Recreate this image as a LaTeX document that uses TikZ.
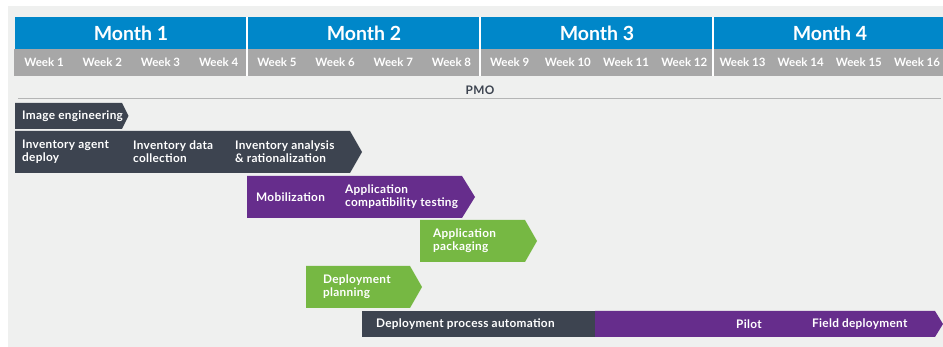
\documentclass[tikz,border=0pt]{standalone}
\usepackage{fontspec}
\setmainfont{Lato}
\newfontfamily\taskfont{Lato}[LetterSpace=2.5]
\definecolor{bgc}{HTML}{EFF0EF}
\definecolor{monthc}{HTML}{0087C9}
\definecolor{weekc}{HTML}{A7A7A7}
\definecolor{darkc}{HTML}{3D4450}
\definecolor{purplec}{HTML}{662D8C}
\definecolor{greenc}{HTML}{76B843}
\definecolor{linec}{HTML}{B4B5B5}
\newcommand{\ganttbar}[6]{%
  \fill[#6] (#1,#2) -- (#3,#2) -- ({#3+#5},{(#2+#4)/2}) -- (#3,#4) -- (#1,#4) -- cycle;}
\tikzset{
  monthlbl/.style={text=white, font=\fontsize{19.5}{22}\selectfont\bfseries, inner sep=0pt},
  weeklbl/.style={text=white, font=\fontsize{11.5}{13}\selectfont\bfseries, inner sep=0pt},
  tasklbl/.style={text=white, font=\taskfont\fontsize{11.8}{12.8}\selectfont\bfseries, inner sep=0pt, anchor=west, align=left},
  pmolbl/.style={text=darkc, font=\taskfont\fontsize{11.8}{13}\selectfont\bfseries, inner sep=0pt}
}
\begin{document}
\begin{tikzpicture}[x=1pt,y=-1pt]
\useasboundingbox (0,0) rectangle (943,347);
\fill[white] (0,0) rectangle (943,347);
\fill[bgc] (8,6) rectangle (943,347);
% header
\fill[monthc] (15,17) rectangle (943,49);
\fill[weekc] (14,49) rectangle (943,76);
\foreach \xx in {247,480,713} {\fill[white] (\xx-0.6,17) rectangle (\xx+0.6,76);}
\node[monthlbl] (m1) at (131,33) {Month 1};
\node[monthlbl] (m2) at (364,33) {Month 2};
\node[monthlbl] (m3) at (597,33) {Month 3};
\node[monthlbl] (m4) at (830,33) {Month 4};
\foreach \w in {1,...,16} {
  \node[weeklbl] (w\w) at ({15+58.2*(\w-0.5)},62.5) {Week \w};
}
% PMO
\node[pmolbl] (pmo) at (480,90) {PMO};
\draw[linec, line width=1pt] (18,99) -- (941,99);
% bars
\ganttbar{15}{103}{122}{129}{6.5}{darkc}
\ganttbar{15}{131}{350}{173}{12}{darkc}
\ganttbar{247}{176}{462}{218}{13}{purplec}
\ganttbar{420}{220}{525}{262}{12}{greenc}
\ganttbar{306}{266}{410}{308}{12}{greenc}
\fill[darkc] (362,311) rectangle (595.5,337);
\ganttbar{595}{311}{935}{337}{8}{purplec}
% labels
\node[tasklbl] (t1) at (22,116) {Image engineering};
\node[tasklbl] (t2) at (22,152) {Inventory agent\\deploy};
\node[tasklbl] (t3) at (133,152) {Inventory data\\collection};
\node[tasklbl] (t4) at (235,152) {Inventory analysis\\\& rationalization};
\node[tasklbl] (t5) at (256,197) {Mobilization};
\node[tasklbl] (t6) at (345,197) {Application\\compatibility testing};
\node[tasklbl] (t7) at (433,241) {Application\\packaging};
\node[tasklbl] (t8) at (323,287) {Deployment\\planning};
\node[tasklbl] (t9) at (376,324) {Deployment process automation};
\node[tasklbl] (t10) at (736,324) {Pilot};
\node[tasklbl] (t11) at (812,324) {Field deployment};
\end{tikzpicture}
\end{document}
